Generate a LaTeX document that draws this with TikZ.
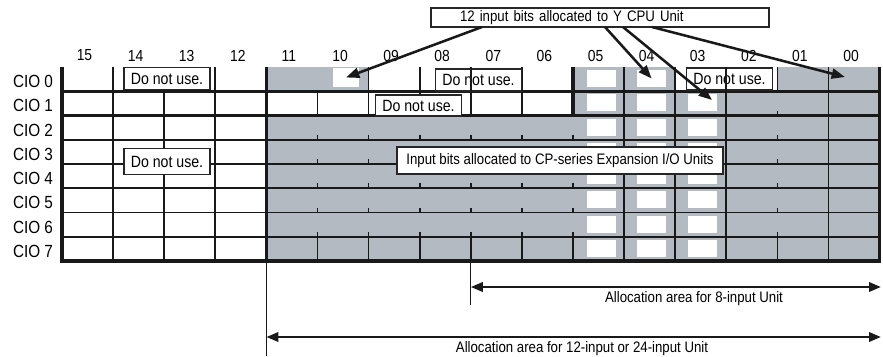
\documentclass[tikz,border=0pt]{standalone}
\usepackage{fontspec}
\setmainfont{Liberation Sans}[FakeStretch=0.87]
\usetikzlibrary{arrows.meta}
\definecolor{cgray}{RGB}{180,186,194}
\tikzset{
  cgrid/.style={draw=black!90, line width=1.3pt},
  cframe/.style={draw=black!90, line width=2.3pt},
  chole/.style={fill=white, draw=none, inner sep=0pt, minimum width=21.75pt, minimum height=12.75pt},
  cbox/.style={draw=black!85, line width=0.9pt, fill=white, inner sep=0pt, font=\fontsize{11.4}{13}\selectfont},
  cnouse/.style={cbox, font=\fontsize{12.2}{14}\selectfont, minimum width=64.5pt, minimum height=16.5pt},
  crow/.style={font=\fontsize{13.2}{15}\selectfont, inner sep=0pt},
  ccol/.style={font=\fontsize{12}{14}\selectfont, inner sep=0pt},
  cnote/.style={font=\fontsize{11.4}{13}\selectfont, inner sep=0pt},
  carrow/.style={-{Triangle[length=10pt,width=7.5pt]}, line width=1.9pt, draw=black!90},
  cspan/.style={{Triangle[length=9pt,width=7pt]}-{Triangle[length=9pt,width=7pt]}, line width=1.8pt, draw=black!90}
}

\begin{document}
\begin{tikzpicture}[x=0.75pt,y=-0.75pt]
  \useasboundingbox (0,0) rectangle (883,357);
  \fill[cgray] (266.4,115.5) rectangle (879.6,261);
  \fill[cgray] (266.4,67) rectangle (368.6,91.25);
  \fill[cgray] (573,67) rectangle (675.2,115.5);
  \fill[cgray] (675.2,91.25) rectangle (879.6,115.5);
  \fill[cgray] (777.4,67) rectangle (879.6,91.25);
  \node[chole, minimum width=19.5pt, minimum height=14.25pt] (h10) at (346,77.5) {};
  \foreach \r in {0,...,7} {
    \node[chole] (h05r\r) at (601,78.5+24.25*\r) {};
    \node[chole] (h04r\r) at (651.6,78.5+24.25*\r) {};
  }
  \foreach \r in {1,...,7}
    \node[chole] (h03r\r) at (702,78.5+24.25*\r) {};

  \foreach \y in {139.75,164,188.25,212.5,236.75}
    \draw[cgrid] (62,\y) -- (879.6,\y);
  \foreach \x in {113.1,164.2,215.3,624.1,675.2,828.5}
    \draw[cgrid] (\x,67) -- (\x,261);
  \foreach \x in {368.6,419.7,521.9}
    \draw[cgrid] (\x,67) -- (\x,115.5);
  \draw[cgrid] (317.5,91.25) -- (317.5,115.5);
  \draw[cgrid] (470.8,91.25) -- (470.8,115.5);
  \draw[cgrid] (726.3,91.25) -- (726.3,261);
  \draw[cgrid] (777.4,67) -- (777.4,91.25);
  \draw[cgrid] (777.4,110.5) -- (777.4,115.5);
  \foreach \x in {317.5,368.6,419.7,470.8,521.9,573,777.4} {
    \foreach \y in {139.75,164,188.25,212.5}
      \draw[cgrid] (\x,\y-5) -- (\x,\y);
    \draw[cgrid] (\x,232) -- (\x,261);
  }
  \draw[cframe] (573,67) -- (573,115.5);
  \draw[cframe] (266.4,67) -- (266.4,261);
  \draw[cframe] (62,91.25) -- (879.6,91.25);
  \draw[cframe] (62,115.5) -- (879.6,115.5);
  \draw[cframe] (62,67) -- (62,261) -- (879.6,261) -- (879.6,67);

  \foreach \n [count=\k from 0] in {15,14,13,12,11,10,09,08,07,06,05,04,03,02,01,00}
    \node[ccol] (col\n) at (84.5+51.1*\k,55.5) {\n};
  \foreach \r in {0,...,7}
    \node[crow] (cio\r) at (33,81.5+24.25*\r) {CIO \r};

  \node[cnouse] (nu1) at (167,78.5) {Do not use.};
  \node[cnouse] (nu2) at (478.5,80) {Do not use.};
  \node[cnouse, minimum height=15.75pt] (nu3) at (418.5,105.5) {Do not use.};
  \node[cnouse] (nu4) at (729.5,79) {Do not use.};
  \node[cnouse, minimum height=20pt] (nu5) at (167,161.5) {Do not use.};
  \draw[cgrid] (470.8,67) -- (470.8,91.25);
  \draw[cgrid] (726.3,67) -- (726.3,91.25);
  \node[cbox, minimum width=244.5pt, minimum height=20.25pt] (exp) at (560,160.5) {Input bits allocated to CP-series Expansion I/O Units};
  \node[cbox, text width=210pt, align=left, inner xsep=21.75pt, minimum height=14.25pt] (cpu) at (600,17.5) {12 input bits allocated to Y CPU Unit};

  \coordinate (s1) at (482,27);
  \coordinate (s2) at (605,27);
  \coordinate (s3) at (623,27);
  \coordinate (s4) at (652,27);
  \coordinate (t03) at (712,100);
  \coordinate (t00) at (845,77);
  \draw[carrow] (s1) -- (h10.center);
  \draw[carrow] (s2) -- (h04r0.center);
  \draw[carrow] (s3) -- (t03);
  \draw[carrow] (s4) -- (t00);

  \coordinate (e8t) at (470.8,261);
  \coordinate (e8b) at (470.8,305);
  \coordinate (e12t) at (266.4,261);
  \coordinate (e12b) at (266.4,356);
  \coordinate (a8l) at (470.8,287);
  \coordinate (a8r) at (881,287);
  \coordinate (a12l) at (266.4,337);
  \coordinate (a12r) at (881,337);
  \draw[cgrid, line width=1pt] (e8t) -- (e8b);
  \draw[cgrid, line width=1pt] (e12t) -- (e12b);
  \draw[cspan] (a8l) -- (a8r);
  \draw[cspan] (a12l) -- (a12r);
  \node[cnote] (l8) at (694,299) {Allocation area for 8-input Unit};
  \node[cnote] (l12) at (582,348.5) {Allocation area for 12-input or 24-input Unit};
\end{tikzpicture}
\end{document}
